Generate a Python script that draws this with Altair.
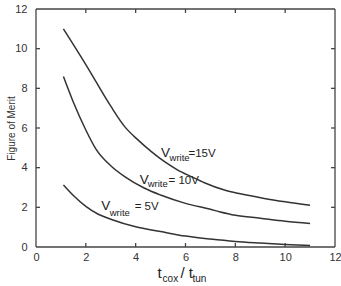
import altair as alt
import pandas as pd

# ---- data ----
x15 = [1.1, 2.0, 3.0, 3.56, 4.09, 4.63, 5.16, 5.69, 6.23, 6.76, 7.56, 8.2, 9.16, 10.0, 11.0]
y15 = [11.0, 9.2, 7.1, 6.07, 5.4, 4.81, 4.3, 3.88, 3.55, 3.24, 2.87, 2.68, 2.45, 2.28, 2.1]

x10 = [1.1, 1.5, 2.0, 2.4, 3.0, 3.56, 4.36, 5.0, 6.0, 7.0, 7.36, 8.0, 9.0, 10.0, 11.0]
y10 = [8.6, 7.3, 5.9, 4.95, 4.1, 3.55, 2.96, 2.62, 2.2, 1.9, 1.78, 1.6, 1.45, 1.3, 1.19]

x5 = [1.1, 1.5, 2.0, 2.5, 3.0, 4.0, 5.0, 6.0, 7.0, 8.0, 9.0, 10.0, 11.0]
y5 = [3.13, 2.6, 2.05, 1.65, 1.4, 1.02, 0.78, 0.55, 0.4, 0.28, 0.2, 0.13, 0.08]

tick_vals = [0, 2, 4, 6, 8, 10, 12]
inner_ticks = [2, 4, 6, 8, 10]
frame_lo = 0
frame_hi = 12

# annotation pieces (label text with subscripts), data coordinates
ann_text = ["V", "write", "=15V",
            "V", "write", "= 10V",
            "V", "write", "= 5V",
            "t", "cox", "/ t", "tun"]
ann_x = [5.02, 5.36, 6.12,
         4.16, 4.48, 5.32,
         2.62, 2.96, 3.96,
         4.88, 5.08, 5.8, 6.28]
ann_y = [4.54, 4.34, 4.54,
         3.2, 3.03, 3.2,
         1.87, 1.56, 1.87,
         -1.56, -1.77, -1.56, -1.77]
ann_size = [13.5, 9.5, 11.5,
            13.5, 9.5, 11.5,
            13.5, 9.5, 11.5,
            15, 10, 15, 10]

# ---- build tables ----
rows = []
for name, xs, ys in [("15V", x15, y15), ("10V", x10, y10), ("5V", x5, y5)]:
    for i, (a, b) in enumerate(zip(xs, ys)):
        rows.append({"series": name, "x": a, "y": b, "o": i})
lines_df = pd.DataFrame(rows)

ann_df = pd.DataFrame({"text": ann_text, "x": ann_x, "y": ann_y, "size": ann_size})

# frame and inward ticks as two-point line segments
segs = []
def seg(name, x1, y1, x2, y2):
    segs.append({"seg": name, "x": x1, "y": y1, "o": 0})
    segs.append({"seg": name, "x": x2, "y": y2, "o": 1})

seg("frame_b", frame_lo, frame_lo, frame_hi, frame_lo)
seg("frame_t", frame_lo, frame_hi, frame_hi, frame_hi)
seg("frame_l", frame_lo, frame_lo, frame_lo, frame_hi)
seg("frame_r", frame_hi, frame_lo, frame_hi, frame_hi)
for v in inner_ticks:
    seg(f"tb{v}", v, 0, v, 0.2)
    seg(f"tt{v}", v, 12, v, 11.8)
    seg(f"tl{v}", 0, v, 0.16, v)
    seg(f"tr{v}", 12, v, 11.84, v)
segs_df = pd.DataFrame(segs)

xscale = alt.Scale(domain=[0, 12], nice=False)
yscale = alt.Scale(domain=[0, 12], nice=False)

xaxis = alt.Axis(values=tick_vals, title=None, grid=False, ticks=False, domain=False,
                 labelFontSize=11, labelColor="#333", labelPadding=4,
                 labelFont="Liberation Sans", labelFlush=False, labelOverlap=False,
                 labelBound=False)
yaxis = alt.Axis(values=tick_vals, title="Figure of Merit", grid=False, ticks=False,
                 domain=False, labelFontSize=11, labelColor="#333", labelPadding=9,
                 labelFont="Liberation Sans", labelFlush=False, labelOverlap=False,
                 labelBound=False, titleFont="Liberation Sans",
                 titleFontSize=10, titleFontWeight="normal", titleColor="#333",
                 titleX=-25, titleY=119, titleAngle=-90, titleBaseline="middle",
                 titleAlign="center")

lines = alt.Chart(lines_df).mark_line(color="#333", strokeWidth=1.5,
                                       interpolate="monotone").encode(
    x=alt.X("x:Q", scale=xscale, axis=xaxis),
    y=alt.Y("y:Q", scale=yscale, axis=yaxis),
    detail="series:N",
    order="o:Q",
)

frame = alt.Chart(segs_df).mark_line(color="#444", strokeWidth=1.3).encode(
    x=alt.X("x:Q", scale=xscale, axis=xaxis),
    y=alt.Y("y:Q", scale=yscale, axis=yaxis),
    detail="seg:N",
    order="o:Q",
)

texts = alt.Chart(ann_df).mark_text(align="left", baseline="alphabetic",
                                    font="Liberation Sans", color="#222").encode(
    x=alt.X("x:Q", scale=xscale, axis=xaxis),
    y=alt.Y("y:Q", scale=yscale, axis=yaxis),
    text="text:N",
    size=alt.Size("size:Q", scale=None, legend=None),
)

chart = alt.layer(frame, lines, texts).properties(
    width=299, height=238,
    padding={"left": 36, "top": 9, "right": 6, "bottom": 39},
    autosize=alt.AutoSizeParams(type="none"),
).configure_view(stroke=None)

chart.save("out.html", embed_options={"renderer": "svg", "actions": False})
